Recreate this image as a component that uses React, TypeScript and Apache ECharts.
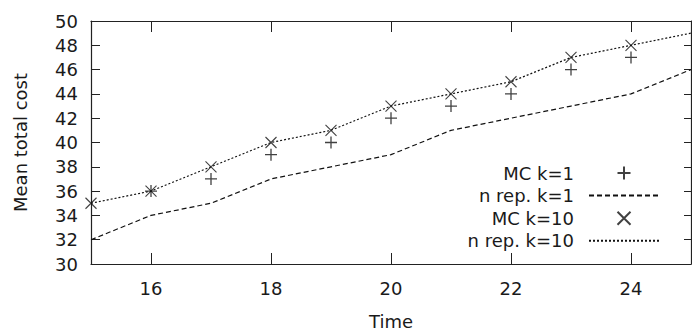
import React, { useEffect, useRef } from "react";
import * as echarts from "echarts";

const time = [15, 16, 17, 18, 19, 20, 21, 22, 23, 24, 25];
const mcTime = [16, 17, 18, 19, 20, 21, 22, 23, 24];
const mcK1 = [36, 37, 39, 40, 42, 43, 44, 46, 47];
const mcK10Time = [15, 16, 17, 18, 19, 20, 21, 22, 23, 24];
const mcK10 = [35, 36, 38, 40, 41, 43, 44, 45, 47, 48];
const nRepK1 = [32, 34, 35, 37, 38, 39, 41, 42, 43, 44, 46];
const nRepK10 = [35, 36, 38, 40, 41, 43, 44, 45, 47, 48, 49];
const xTicks = [16, 18, 20, 22, 24];

const FONT = "DejaVu Sans";
const TXT = "#1a1a1a";
const PLUS = "path://M0,5L10,5M5,0L5,10";
const CROSS = "path://M0,0L10,10M10,0L0,10";

export default function App() {
  const ref = useRef<HTMLDivElement>(null);
  useEffect(() => {
    const chart = echarts.init(ref.current!, null, { renderer: "svg" });
    const pts = (xs: number[], ys: number[]) => xs.map((x, i) => [x, ys[i]]);
    const axLine = { show: true, lineStyle: { color: "#222", width: 1.2 } };
    chart.setOption({
      animation: false,
      grid: { left: 91, right: 1, top: 21, bottom: 72 },
      xAxis: [
        {
          type: "value", min: 15, max: 25, position: "bottom",
          name: "Time", nameLocation: "middle", nameGap: 48,
          nameTextStyle: { fontFamily: FONT, fontSize: 18, color: TXT },
          axisLine: axLine, splitLine: { show: false },
          axisTick: { show: true, inside: true, length: 11, customValues: xTicks, lineStyle: { color: "#222" } },
          axisLabel: { customValues: xTicks, fontFamily: FONT, fontSize: 18, color: TXT, margin: 15 },
        },
        {
          type: "value", min: 15, max: 25, position: "top",
          axisLine: axLine, splitLine: { show: false },
          axisTick: { show: true, inside: true, length: 11, customValues: xTicks, lineStyle: { color: "#222" } },
          axisLabel: { show: false },
        },
      ],
      yAxis: [
        {
          type: "value", min: 30, max: 50, interval: 2, position: "left",
          name: "Mean total cost", nameLocation: "middle", nameGap: 62,
          nameTextStyle: { fontFamily: FONT, fontSize: 18, color: TXT },
          axisLine: axLine, splitLine: { show: false },
          axisTick: { show: true, inside: true, length: 9, lineStyle: { color: "#222" } },
          axisLabel: { fontFamily: FONT, fontSize: 18, color: TXT, margin: 13 },
        },
        {
          type: "value", min: 30, max: 50, interval: 2, position: "right",
          axisLine: axLine, splitLine: { show: false },
          axisTick: { show: true, inside: true, length: 7, lineStyle: { color: "#222" } },
          axisLabel: { show: false },
        },
      ],
      legend: {
        orient: "vertical", right: 27, top: 158, align: "right",
        itemWidth: 70, itemHeight: 13, itemGap: 2.6,
        textStyle: { fontFamily: FONT, fontSize: 18, color: TXT, lineHeight: 20, padding: [0, 10, 0, 0] },
        data: ["MC k=1", "n rep. k=1", "MC k=10", "n rep. k=10"],
      },
      series: [
        {
          name: "MC k=1", type: "scatter", data: pts(mcTime, mcK1),
          symbol: PLUS, symbolSize: 12, symbolKeepAspect: true,
          itemStyle: { color: "transparent", borderColor: "#111", borderWidth: 1.3 },
        },
        {
          name: "n rep. k=1", type: "line", data: pts(time, nRepK1), showSymbol: false, symbol: "none",
          lineStyle: { color: "#111", width: 1.2, type: [5, 3] },
          itemStyle: { color: "#111", opacity: 0 },
        },
        {
          name: "MC k=10", type: "scatter", data: pts(mcK10Time, mcK10),
          symbol: CROSS, symbolSize: 11, symbolKeepAspect: true,
          itemStyle: { color: "transparent", borderColor: "#111", borderWidth: 1.1 },
        },
        {
          name: "n rep. k=10", type: "line", data: pts(time, nRepK10), showSymbol: false, symbol: "none",
          lineStyle: { color: "#111", width: 1.2, type: [2, 2] },
          itemStyle: { color: "#111", opacity: 0 },
        },
      ],
    });
    return () => chart.dispose();
  }, []);
  return <div ref={ref} style={{ width: 692, height: 336, position: "absolute", left: 0, top: 0, background: "#fff" }} />;
}
